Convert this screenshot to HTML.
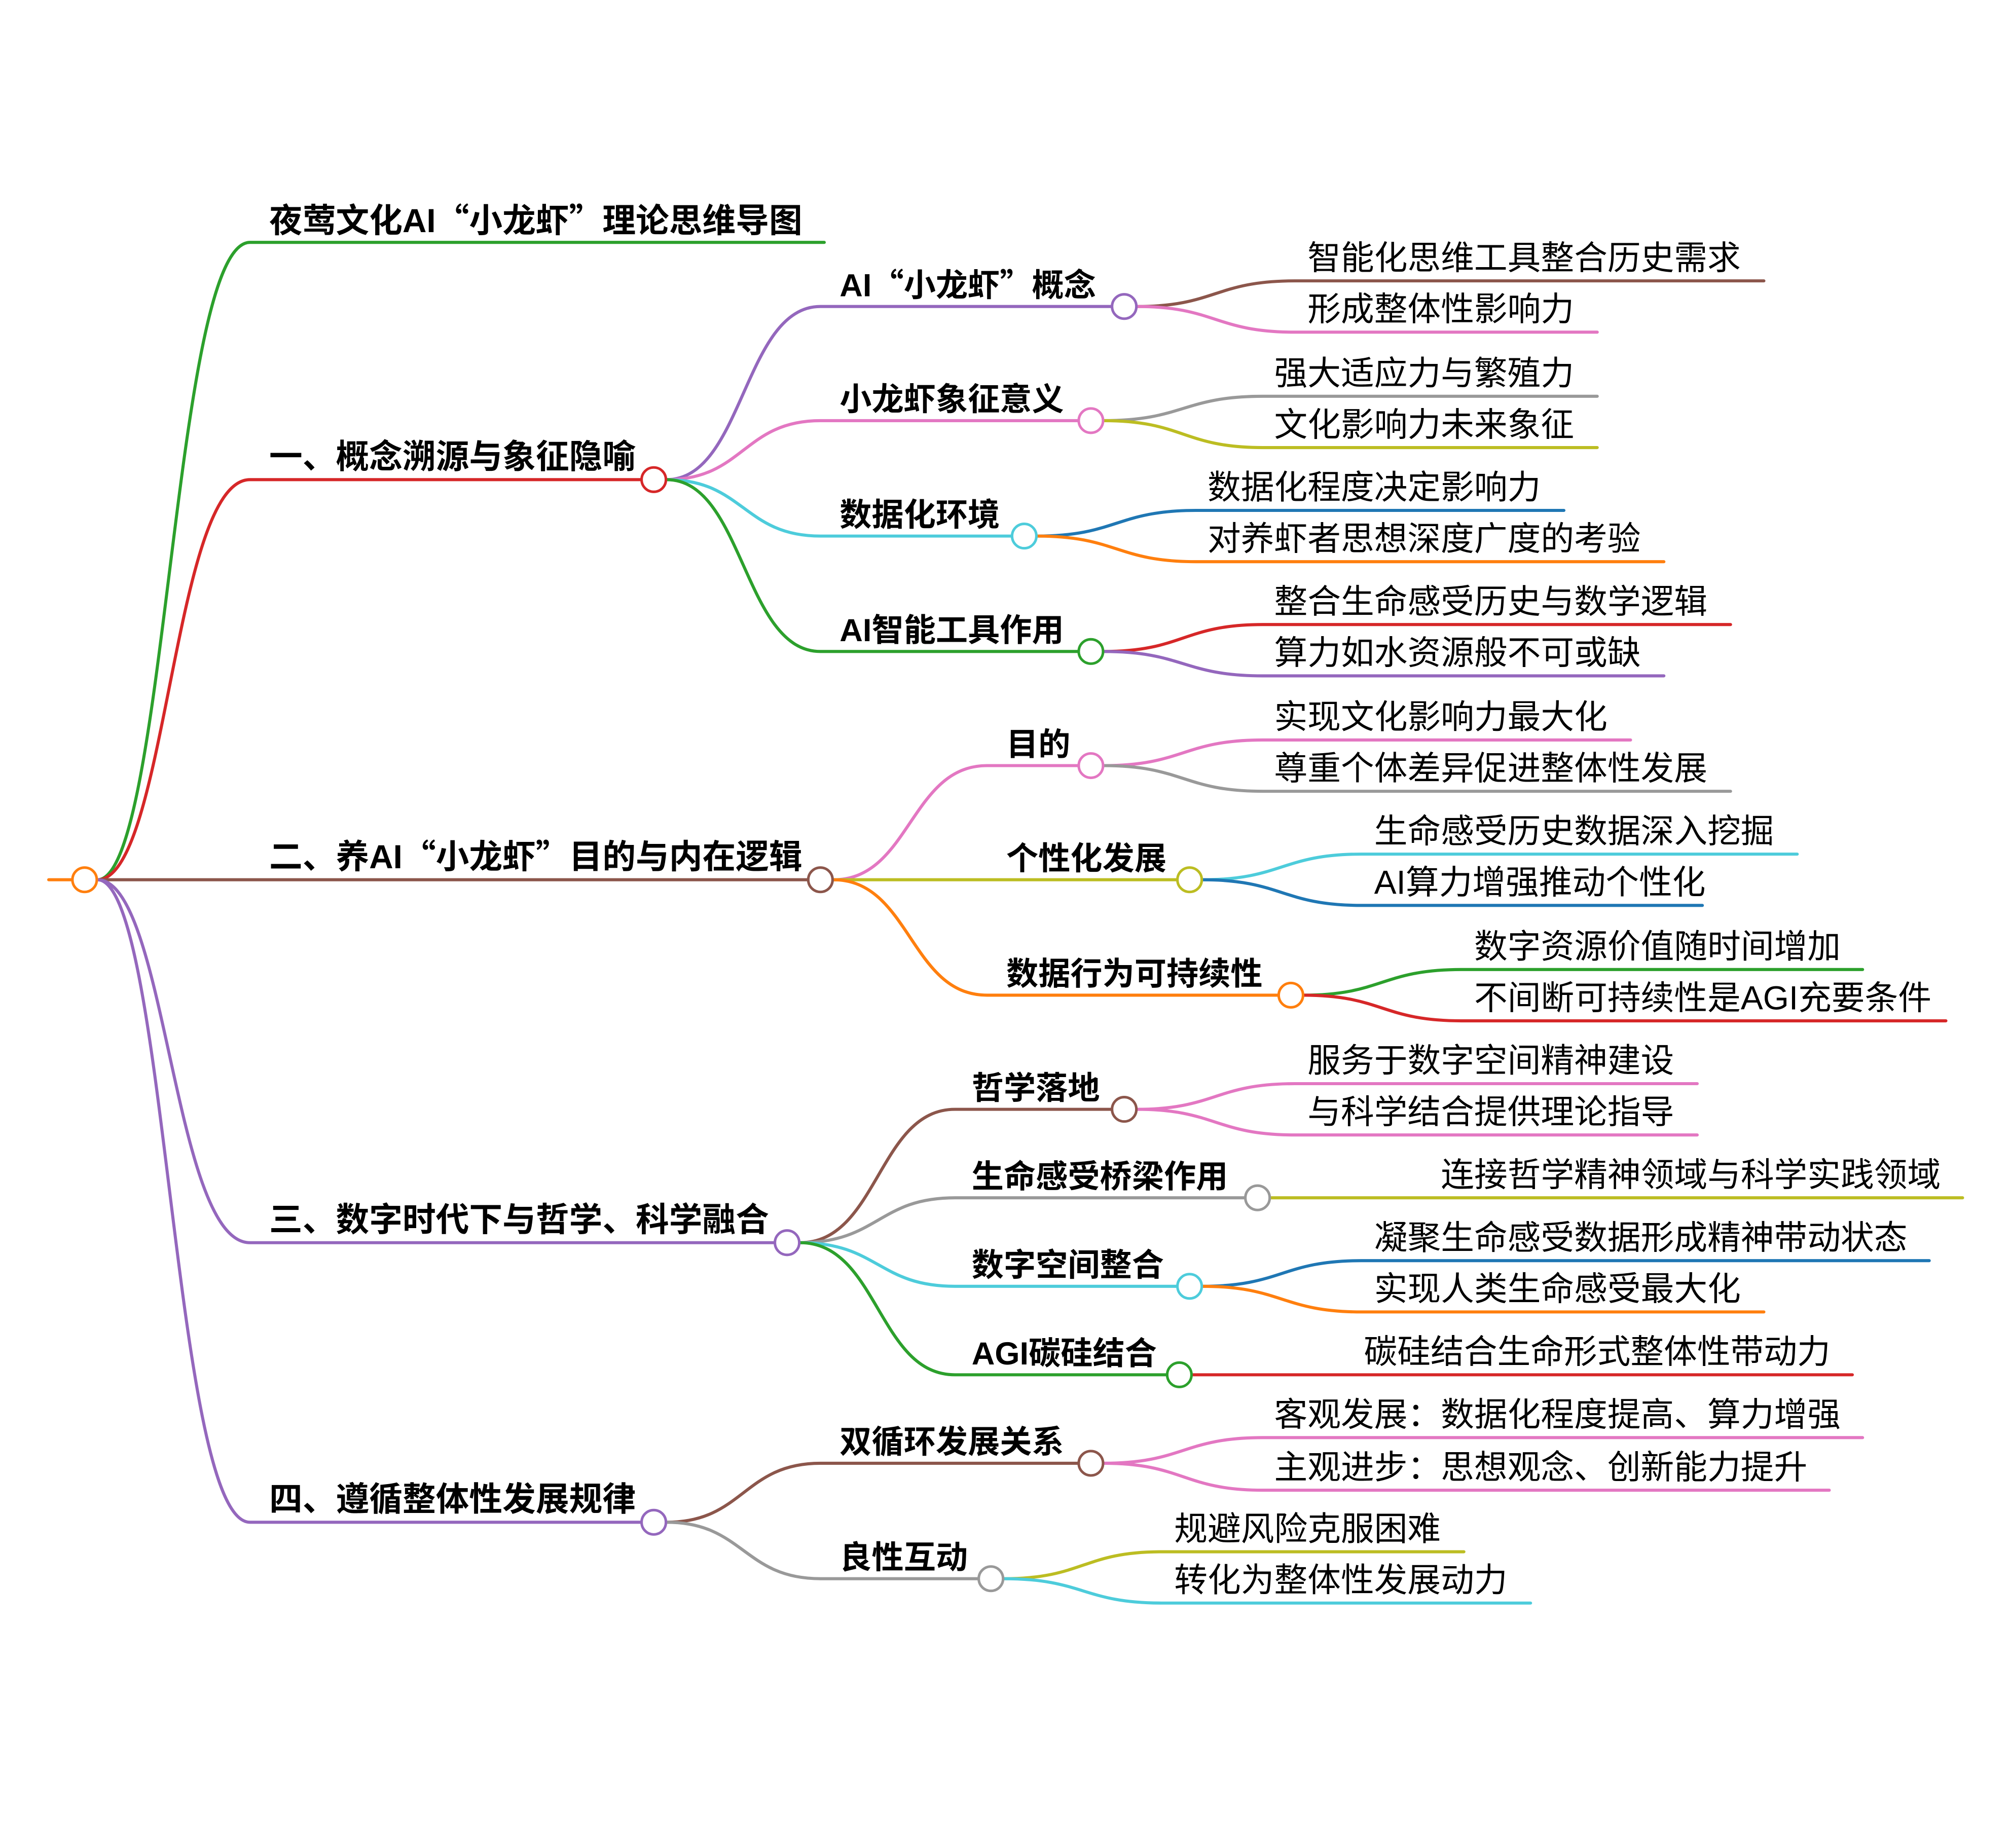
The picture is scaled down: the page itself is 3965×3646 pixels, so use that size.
<!DOCTYPE html>
<html><head><meta charset="utf-8"><style>
html,body{margin:0;padding:0;background:#fff;}
svg{display:block;}
text{font-family:"Liberation Sans","Noto Sans CJK SC",sans-serif;fill:#000;}
.b{font-weight:bold;}
.q{font-family:"Noto Sans CJK SC",sans-serif;}
</style></head><body>
<svg width="3965" height="3646" viewBox="0 0 1568 1441" preserveAspectRatio="none" xmlns="http://www.w3.org/2000/svg">
<g fill="none" stroke-width="2.4" stroke-linecap="round">
<path d="M38,686 H56" stroke="#FF7F0E"/>
<path d="M76,686 C130,686 135,189 195,189 H643" stroke="#2CA02C"/>
<path d="M76,686 C130,686 135,374 195,374 H500" stroke="#D62728"/>
<path d="M76,686 C130,686 135,686 195,686 H630" stroke="#8C564B"/>
<path d="M76,686 C130,686 135,969 195,969 H604" stroke="#9467BD"/>
<path d="M76,686 C130,686 135,1187 195,1187 H500" stroke="#9467BD"/>
<path d="M520,374 C580,374 580,239 640,239 H867" stroke="#9467BD"/>
<path d="M520,374 C580,374 580,328 640,328 H841" stroke="#E377C2"/>
<path d="M520,374 C580,374 580,418 640,418 H789" stroke="#4DCCDB"/>
<path d="M520,374 C580,374 580,508 640,508 H841" stroke="#2CA02C"/>
<path d="M650,686 C710,686 710,597 770,597 H841" stroke="#E377C2"/>
<path d="M650,686 H918" stroke="#BCBD22"/>
<path d="M650,686 C710,686 710,776 770,776 H997" stroke="#FF7F0E"/>
<path d="M624,969 C685,969 685,865 745,865 H867" stroke="#8C564B"/>
<path d="M624,969 C685,969 685,934 745,934 H971" stroke="#999999"/>
<path d="M624,969 C685,969 685,1003 745,1003 H918" stroke="#4DCCDB"/>
<path d="M624,969 C685,969 685,1072 745,1072 H910" stroke="#2CA02C"/>
<path d="M520,1187 C580,1187 580,1141 640,1141 H841" stroke="#8C564B"/>
<path d="M520,1187 C580,1187 580,1231 640,1231 H763" stroke="#999999"/>
<path d="M887,239 C948,239 948,219 1010,219 H1376" stroke="#8C564B"/>
<path d="M887,239 C948,239 948,259 1010,259 H1246" stroke="#E377C2"/>
<path d="M861,328 C923,328 923,309 985,309 H1246" stroke="#999999"/>
<path d="M861,328 C923,328 923,349 985,349 H1246" stroke="#BCBD22"/>
<path d="M809,418 C871,418 871,398 933,398 H1220" stroke="#1F77B4"/>
<path d="M809,418 C871,418 871,438 933,438 H1298" stroke="#FF7F0E"/>
<path d="M861,508 C923,508 923,487 985,487 H1350" stroke="#D62728"/>
<path d="M861,508 C923,508 923,527 985,527 H1298" stroke="#9467BD"/>
<path d="M861,597 C923,597 923,577 985,577 H1272" stroke="#E377C2"/>
<path d="M861,597 C923,597 923,617 985,617 H1350" stroke="#999999"/>
<path d="M938,686 C1000,686 1000,666 1062,666 H1402" stroke="#4DCCDB"/>
<path d="M938,686 C1000,686 1000,706 1062,706 H1328" stroke="#1F77B4"/>
<path d="M1017,776 C1078,776 1078,756 1140,756 H1453" stroke="#2CA02C"/>
<path d="M1017,776 C1078,776 1078,796 1140,796 H1518" stroke="#D62728"/>
<path d="M887,865 C948,865 948,845 1010,845 H1324" stroke="#E377C2"/>
<path d="M887,865 C948,865 948,885 1010,885 H1324" stroke="#E377C2"/>
<path d="M991,934 H1531" stroke="#BCBD22"/>
<path d="M938,1003 C1000,1003 1000,983 1062,983 H1505" stroke="#1F77B4"/>
<path d="M938,1003 C1000,1003 1000,1023 1062,1023 H1376" stroke="#FF7F0E"/>
<path d="M930,1072 H1445" stroke="#D62728"/>
<path d="M861,1141 C923,1141 923,1121 985,1121 H1453" stroke="#E377C2"/>
<path d="M861,1141 C923,1141 923,1162 985,1162 H1427" stroke="#E377C2"/>
<path d="M783,1231 C845,1231 845,1210 906,1210 H1142" stroke="#BCBD22"/>
<path d="M783,1231 C845,1231 845,1250 906,1250 H1194" stroke="#4DCCDB"/>
</g>
<g fill="#fff" stroke-width="2">
<circle cx="66" cy="686" r="9.5" stroke="#FF7F0E"/>
<circle cx="510" cy="374" r="9.5" stroke="#D62728"/>
<circle cx="640" cy="686" r="9.5" stroke="#8C564B"/>
<circle cx="614" cy="969" r="9.5" stroke="#9467BD"/>
<circle cx="510" cy="1187" r="9.5" stroke="#9467BD"/>
<circle cx="877" cy="239" r="9.5" stroke="#9467BD"/>
<circle cx="851" cy="328" r="9.5" stroke="#E377C2"/>
<circle cx="799" cy="418" r="9.5" stroke="#4DCCDB"/>
<circle cx="851" cy="508" r="9.5" stroke="#2CA02C"/>
<circle cx="851" cy="597" r="9.5" stroke="#E377C2"/>
<circle cx="928" cy="686" r="9.5" stroke="#BCBD22"/>
<circle cx="1007" cy="776" r="9.5" stroke="#FF7F0E"/>
<circle cx="877" cy="865" r="9.5" stroke="#8C564B"/>
<circle cx="981" cy="934" r="9.5" stroke="#999999"/>
<circle cx="928" cy="1003" r="9.5" stroke="#4DCCDB"/>
<circle cx="920" cy="1072" r="9.5" stroke="#2CA02C"/>
<circle cx="851" cy="1141" r="9.5" stroke="#8C564B"/>
<circle cx="773" cy="1231" r="9.5" stroke="#999999"/>
</g>
<g font-size="26">
<text class="b" x="210" y="181">夜莺文化AI<tspan class="q">“</tspan>小龙虾<tspan class="q">”</tspan>理论思维导图</text>
<text class="b" x="210" y="365">一、概念溯源与象征隐喻</text>
<text class="b" x="210" y="677">二、养AI<tspan class="q">“</tspan>小龙虾<tspan class="q">”</tspan>目的与内在逻辑</text>
<text class="b" x="210" y="960">三、数字时代下与哲学、科学融合</text>
<text class="b" x="210" y="1178">四、遵循整体性发展规律</text>
</g>
<g font-size="25">
<text class="b" x="655" y="231">AI<tspan class="q">“</tspan>小龙虾<tspan class="q">”</tspan>概念</text>
<text class="b" x="655" y="320">小龙虾象征意义</text>
<text class="b" x="655" y="410">数据化环境</text>
<text class="b" x="655" y="500">AI智能工具作用</text>
<text class="b" x="785" y="589">目的</text>
<text class="b" x="785" y="678">个性化发展</text>
<text class="b" x="785" y="768">数据行为可持续性</text>
<text class="b" x="758" y="857">哲学落地</text>
<text class="b" x="758" y="926">生命感受桥梁作用</text>
<text class="b" x="758" y="995">数字空间整合</text>
<text class="b" x="758" y="1064">AGI碳硅结合</text>
<text class="b" x="655" y="1133">双循环发展关系</text>
<text class="b" x="655" y="1223">良性互动</text>
</g>
<g font-size="26">
<text x="1020" y="210">智能化思维工具整合历史需求</text>
<text x="1020" y="250">形成整体性影响力</text>
<text x="994" y="300">强大适应力与繁殖力</text>
<text x="994" y="340">文化影响力未来象征</text>
<text x="942" y="389">数据化程度决定影响力</text>
<text x="942" y="429">对养虾者思想深度广度的考验</text>
<text x="994" y="478">整合生命感受历史与数学逻辑</text>
<text x="994" y="518">算力如水资源般不可或缺</text>
<text x="994" y="568">实现文化影响力最大化</text>
<text x="994" y="608">尊重个体差异促进整体性发展</text>
<text x="1072" y="657">生命感受历史数据深入挖掘</text>
<text x="1072" y="697">AI算力增强推动个性化</text>
<text x="1150" y="747">数字资源价值随时间增加</text>
<text x="1150" y="787">不间断可持续性是AGI充要条件</text>
<text x="1020" y="836">服务于数字空间精神建设</text>
<text x="1020" y="876">与科学结合提供理论指导</text>
<text x="1124" y="925">连接哲学精神领域与科学实践领域</text>
<text x="1072" y="974">凝聚生命感受数据形成精神带动状态</text>
<text x="1072" y="1014">实现人类生命感受最大化</text>
<text x="1064" y="1063">碳硅结合生命形式整体性带动力</text>
<text x="994" y="1112">客观发展：数据化程度提高、算力增强</text>
<text x="994" y="1153">主观进步：思想观念、创新能力提升</text>
<text x="916" y="1201">规避风险克服困难</text>
<text x="916" y="1241">转化为整体性发展动力</text>
</g>
</svg>
</body></html>
